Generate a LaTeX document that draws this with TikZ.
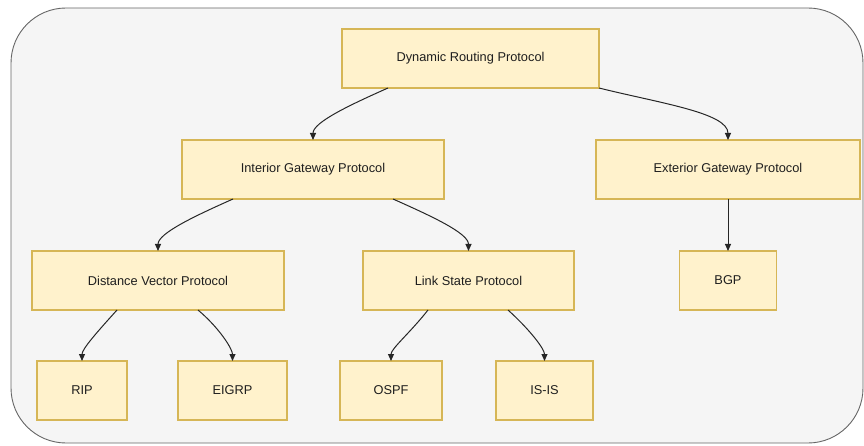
\documentclass[tikz,border=0pt]{standalone}
\usepackage{fontspec}
\setmainfont{Liberation Sans}
\usetikzlibrary{arrows.meta}
\definecolor{boxfill}{HTML}{FFF2CC}
\definecolor{boxline}{HTML}{D6B656}
\definecolor{bgfill}{HTML}{F5F5F5}
\definecolor{bgline}{HTML}{666666}
\definecolor{txt}{HTML}{1E1E1E}
\begin{document}
\begin{tikzpicture}[x=1pt,y=1pt,
  box/.style={draw=boxline, fill=boxfill, line width=1.3pt, inner sep=0pt, outer sep=0pt,
    minimum height=59pt, text=txt, font=\fontsize{12.8}{15}\selectfont},
  conn/.style={draw=black!85, line width=1pt, -{Triangle[length=7pt,width=6pt]}},
  curvy/.style={out looseness=1.15, in looseness=0.5}
]
\useasboundingbox (0,0) rectangle (864,-446);
\draw[fill=bgfill, draw=bgline, line width=0.9pt, rounded corners=55pt] (11,-8) rectangle (863,-443);

\node[box, minimum width=257pt] (drp) at (470.5,-58.5) {Dynamic Routing Protocol};
\node[box, minimum width=262pt] (igp) at (313,-169.5) {Interior Gateway Protocol};
\node[box, minimum width=264pt] (egp) at (728,-169.5) {Exterior Gateway Protocol};
\node[box, minimum width=252pt] (dv) at (158,-280.5) {Distance Vector Protocol};
\node[box, minimum width=211pt] (ls) at (468.5,-280.5) {Link State Protocol};
\node[box, minimum width=97pt] (bgp) at (728,-280.5) {BGP};
\node[box, minimum width=90pt] (rip) at (82,-390.5) {RIP};
\node[box, minimum width=109pt] (eigrp) at (232.5,-390.5) {EIGRP};
\node[box, minimum width=102pt] (ospf) at (391,-390.5) {OSPF};
\node[box, minimum width=97pt] (isis) at (544.5,-390.5) {IS-IS};

\draw[conn] ([xshift=46pt]drp.south west) to[out=204, in=90, curvy] (igp.north);
\draw[conn] (drp.south east) to[out=-14, in=90, curvy] (egp.north);
\draw[conn] ([xshift=51pt]igp.south west) to[out=204, in=90, curvy] (dv.north);
\draw[conn] ([xshift=-51pt]igp.south east) to[out=-24, in=90, curvy] (ls.north);
\draw[conn] (egp.south) -- (bgp.north);
\draw[conn] ([xshift=85pt]dv.south west) to[out=228, in=90, curvy] (rip.north);
\draw[conn] ([xshift=166pt]dv.south west) to[out=-40, in=90, curvy] (eigrp.north);
\draw[conn] ([xshift=65pt]ls.south west) to[out=232, in=90, curvy] (ospf.north);
\draw[conn] ([xshift=145pt]ls.south west) to[out=-42, in=90, curvy] (isis.north);
\end{tikzpicture}
\end{document}
